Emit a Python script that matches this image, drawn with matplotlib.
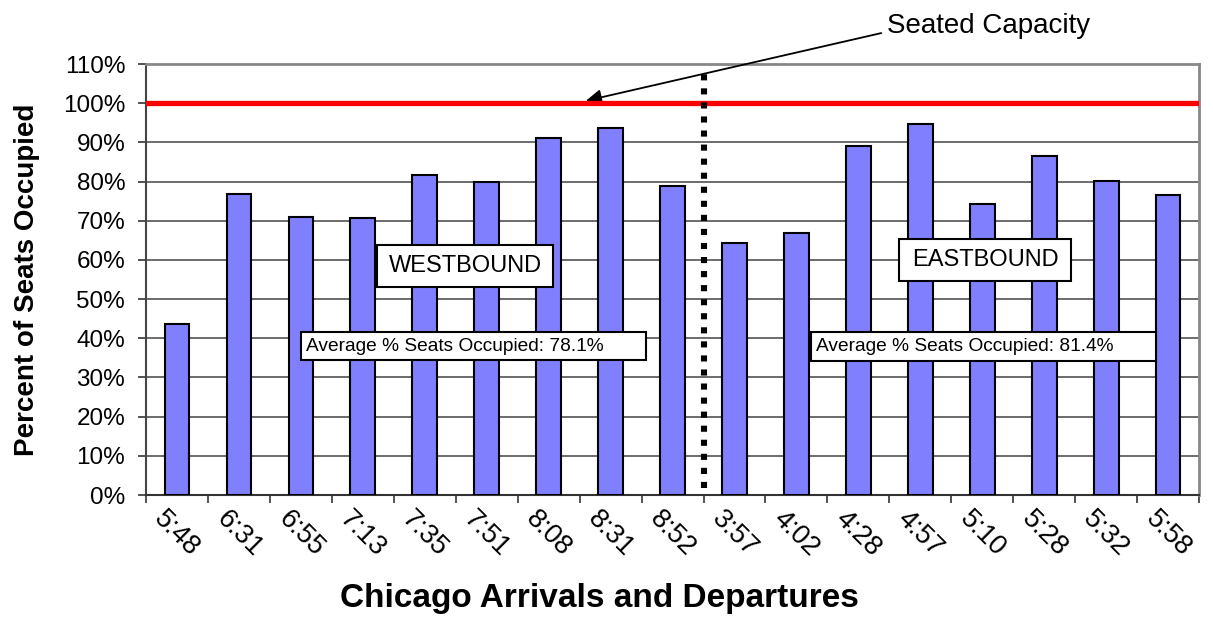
import matplotlib.pyplot as plt
from matplotlib.patches import Rectangle
from matplotlib.ticker import FixedLocator

plt.rcParams['font.family'] = ['Liberation Sans', 'DejaVu Sans']

# Horarios de llegada (westbound) y salida (eastbound) en Chicago
horarios = ['5:48', '6:31', '6:55', '7:13', '7:35', '7:51', '8:08', '8:31', '8:52',
            '3:57', '4:02', '4:28', '4:57', '5:10', '5:28', '5:32', '5:58']
ocupacion = [43.6, 76.8, 71.0, 70.8, 81.6, 80.0, 91.2, 93.6, 78.8,
             64.4, 66.9, 89.0, 94.6, 74.4, 86.5, 80.1, 76.6]
capacidad = 100
promedioOeste = 78.1
promedioEste = 81.4
divisiones = list(range(0, 111, 10))

fig = plt.figure(figsize=(12.13, 6.24), dpi=100)
ax = fig.add_axes([0.1204, 0.2067, 0.8681, 0.6907])

x = list(range(len(horarios)))
ax.bar(x, ocupacion, width=0.4, color='#8080FF', edgecolor='black', linewidth=1.5, zorder=3)

ax.axhline(capacidad, color='red', linewidth=3.8, zorder=4)
ax.plot([8.5, 8.5], [1.8, 109], color='black', linewidth=4.4,
        linestyle=(0, (1, 1.3)), zorder=5)

ax.set_xlim(-0.5, len(horarios) - 0.5)
ax.set_ylim(0, 110)
ax.set_yticks(divisiones)
ax.set_yticklabels(['%d%%' % d for d in divisiones], fontsize=17.5)
ax.set_xticks(x)
ax.set_xticklabels(horarios, rotation=-45, ha='center', va='top', fontsize=19.5)
ax.xaxis.set_minor_locator(FixedLocator([i - 0.5 for i in range(len(horarios) + 1)]))
ax.tick_params(axis='x', which='major', length=0, pad=8)
ax.tick_params(axis='x', which='minor', length=6, width=1.2, color='#333333')
ax.tick_params(axis='y', length=6, width=1.2, color='#333333', pad=9)

ax.grid(axis='y', color='#444444', linewidth=1.1, zorder=0)
ax.set_axisbelow(True)
for lado in ['top', 'right']:
    ax.spines[lado].set_color('#888888')
    ax.spines[lado].set_linewidth(2)
ax.spines['left'].set_color('#444444')
ax.spines['left'].set_linewidth(1.5)
ax.spines['bottom'].set_color('#333333')
ax.spines['bottom'].set_linewidth(1.5)

ax.set_ylabel('Percent of Seats Occupied', fontsize=20, fontweight='bold')
ax.yaxis.set_label_coords(-0.101, 0.5)
ax.set_xlabel('Chicago Arrivals and Departures', fontsize=24, fontweight='bold')
ax.xaxis.set_label_coords(0.431, -0.205)

# Cuadros de texto
def cuadro(x0, x1, y0, y1):
    ax.add_patch(Rectangle((x0, y0), x1 - x0, y1 - y0, facecolor='white',
                           edgecolor='black', linewidth=1.5, zorder=6))

cuadro(3.235, 6.064, 53.1, 63.8)
ax.text(4.65, 58.4, 'WESTBOUND', ha='center', va='center', fontsize=17, zorder=7)
cuadro(11.658, 14.44, 54.6, 65.3)
ax.text(13.05, 60.0, 'EASTBOUND', ha='center', va='center', fontsize=17, zorder=7)

cuadro(2.006, 7.568, 34.4, 41.6)
ax.text(2.087, 38.0, 'Average % Seats Occupied: ' + '%.1f%%' % promedioOeste,
        ha='left', va='center', fontsize=13.8, zorder=7)
cuadro(10.236, 15.797, 34.2, 41.6)
ax.text(10.32, 37.9, 'Average % Seats Occupied: ' + '%.1f%%' % promedioEste,
        ha='left', va='center', fontsize=13.8, zorder=7)

ax.annotate('', xy=(6.6, 100.6), xytext=(11.37, 117.9), annotation_clip=False,
            arrowprops=dict(arrowstyle='-|>', color='black', linewidth=1.3,
                            mutation_scale=24, shrinkA=0, shrinkB=0))
ax.text(11.46, 119.7, 'Seated Capacity', ha='left', va='center', fontsize=20, clip_on=False)

plt.savefig('out.png', dpi=100)
